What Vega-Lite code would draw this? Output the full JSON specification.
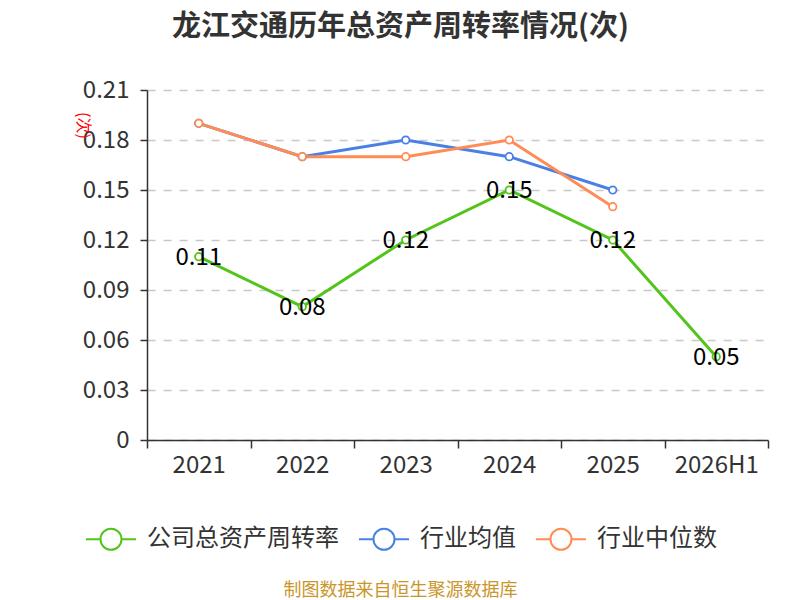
{
  "$schema": "https://vega.github.io/schema/vega-lite/v6.json",
  "width": 621,
  "height": 350,
  "autosize": {"type": "none"},
  "padding": {"left": 147, "top": 90, "right": 32, "bottom": 160},
  "background": "white",
  "config": {
    "font": "Noto Sans CJK SC",
    "view": {"stroke": null}
  },
  "title": {
    "text": "龙江交通历年总资产周转率情况(次)",
    "fontSize": 29,
    "fontWeight": "bold",
    "color": "#333333",
    "anchor": "middle",
    "frame": "group",
    "dx": -57,
    "offset": 36
  },
  "data": {
    "values": [
      {"year": "2021", "series": "公司总资产周转率", "value": 0.11},
      {"year": "2022", "series": "公司总资产周转率", "value": 0.08},
      {"year": "2023", "series": "公司总资产周转率", "value": 0.12},
      {"year": "2024", "series": "公司总资产周转率", "value": 0.15},
      {"year": "2025", "series": "公司总资产周转率", "value": 0.12},
      {"year": "2026H1", "series": "公司总资产周转率", "value": 0.05},
      {"year": "2021", "series": "行业均值", "value": 0.19},
      {"year": "2022", "series": "行业均值", "value": 0.17},
      {"year": "2023", "series": "行业均值", "value": 0.18},
      {"year": "2024", "series": "行业均值", "value": 0.17},
      {"year": "2025", "series": "行业均值", "value": 0.15},
      {"year": "2021", "series": "行业中位数", "value": 0.19},
      {"year": "2022", "series": "行业中位数", "value": 0.17},
      {"year": "2023", "series": "行业中位数", "value": 0.17},
      {"year": "2024", "series": "行业中位数", "value": 0.18},
      {"year": "2025", "series": "行业中位数", "value": 0.14}
    ]
  },
  "encoding": {
    "x": {
      "field": "year",
      "type": "ordinal",
      "sort": ["2021", "2022", "2023", "2024", "2025", "2026H1"],
      "scale": {"type": "band", "paddingInner": 0, "paddingOuter": 0},
      "axis": {
        "title": "制图数据来自恒生聚源数据库",
        "titleColor": "#c9962a",
        "titleFontSize": 18,
        "titleFontWeight": "normal",
        "titleX": 253,
        "titleY": 150,
        "titleAlign": "center",
        "titleBaseline": "middle",
        "labelAngle": 0,
        "labelFontSize": 24,
        "labelColor": "#333333",
        "labelPadding": 5,
        "tickBand": "extent",
        "tickSize": 8,
        "tickColor": "#333333",
        "tickWidth": 1.5,
        "domainColor": "#333333",
        "domainWidth": 1.5,
        "grid": false
      }
    },
    "y": {
      "field": "value",
      "type": "quantitative",
      "scale": {"domain": [0, 0.21], "nice": false},
      "axis": {
        "title": "(次)",
        "titleColor": "#ff0000",
        "titleFontSize": 16,
        "titleFontWeight": "normal",
        "titleAngle": 90,
        "titleX": -65,
        "titleY": 35,
        "titleAlign": "center",
        "titleBaseline": "middle",
        "values": [0, 0.03, 0.06, 0.09, 0.12, 0.15, 0.18, 0.21],
        "labelExpr": "datum.value == 0 ? '0' : format(datum.value, '.2f')",
        "labelFontSize": 24,
        "labelColor": "#333333",
        "labelPadding": 11,
        "tickSize": 7,
        "tickColor": "#333333",
        "tickWidth": 1.5,
        "domainColor": "#333333",
        "domainWidth": 1.5,
        "grid": true,
        "gridColor": "#c8c8c8",
        "gridDash": [8, 8],
        "gridWidth": 1.5
      }
    }
  },
  "layer": [
    {
      "mark": {"type": "line", "strokeWidth": 3},
      "encoding": {
        "color": {
          "field": "series",
          "type": "nominal",
          "scale": {
            "domain": ["公司总资产周转率", "行业均值", "行业中位数"],
            "range": ["#52c41a", "#4a80e6", "#ff8c55"]
          },
          "legend": {
            "orient": "none",
            "direction": "horizontal",
            "legendX": -62,
            "legendY": 423,
            "title": null,
            "symbolType": "M-1,0L-0.42,0M0.42,0L1,0M-0.42,0A0.42,0.42 0 1,1 0.42,0A0.42,0.42 0 1,1 -0.42,0",
            "symbolSize": 2500,
            "symbolStrokeWidth": 2,
            "symbolFillColor": "white",
            "labelFontSize": 24,
            "labelLimit": 0,
            "labelColor": "#333333",
            "labelOffset": 10,
            "columnPadding": 16
          }
        },
        "order": {"field": "year"}
      }
    },
    {
      "mark": {"type": "point", "shape": "circle", "filled": true, "fill": "white", "opacity": 1, "size": 55, "strokeWidth": 1.8},
      "encoding": {
        "stroke": {
          "field": "series",
          "type": "nominal",
          "scale": {
            "domain": ["公司总资产周转率", "行业均值", "行业中位数"],
            "range": ["#52c41a", "#4a80e6", "#ff8c55"]
          },
          "legend": null
        }
      }
    },
    {
      "transform": [{"filter": "datum.series == '公司总资产周转率'"}],
      "mark": {"type": "text", "fontSize": 24, "color": "#000000", "baseline": "middle", "dy": 1},
      "encoding": {
        "text": {"field": "value", "type": "quantitative", "format": ".2f"}
      }
    }
  ]
}
